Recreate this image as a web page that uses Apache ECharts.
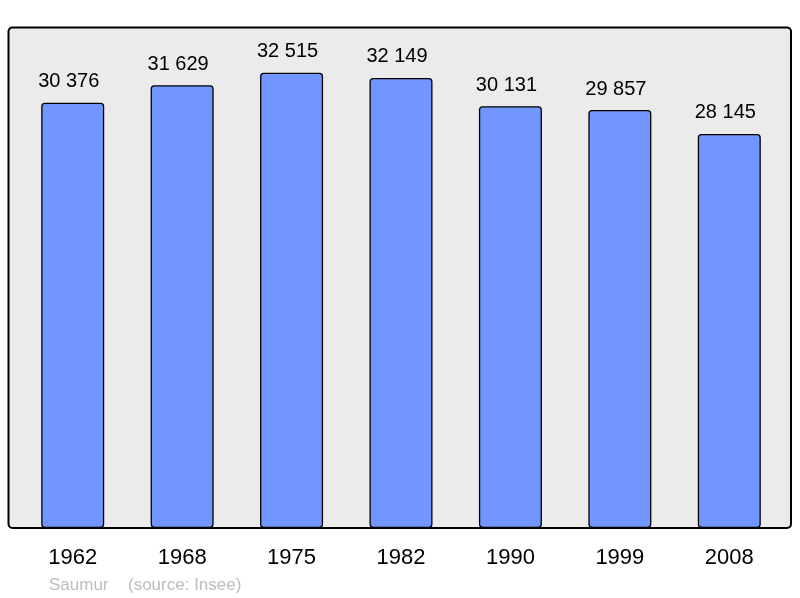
<!DOCTYPE html>
<html><head><meta charset="utf-8">
<script src="https://cdn.jsdelivr.net/npm/echarts@6/dist/echarts.min.js"></script>
<style>html,body{margin:0;padding:0;background:#fff}#c{width:800px;height:598px}</style>
</head><body><div id="c"></div>
<script>
const years = ['1962','1968','1975','1982','1990','1999','2008'];
const population = [30376, 31629, 32515, 32149, 30131, 29857, 28145];
const town = 'Saumur';
const source = '(source: Insee)';

const fmt = v => String(v).replace(/\B(?=(\d{3})+(?!\d))/g, ' ');
const chart = echarts.init(document.getElementById('c'), null, {renderer: 'canvas'});
chart.setOption({
  animation: false,
  backgroundColor: '#ffffff',
  textStyle: {fontFamily: 'Liberation Sans, Arial, sans-serif'},
  graphic: [
    {type: 'rect', z: -10, shape: {x: 8.5, y: 27.5, width: 782.5, height: 500.5, r: 4},
     style: {fill: '#ebebeb', stroke: '#000', lineWidth: 2}},
    {type: 'text', left: 49, top: 577, style: {text: town, fill: '#bdbdbd', font: '17px Liberation Sans, Arial, sans-serif'}},
    {type: 'text', left: 128, top: 577, style: {text: source, fill: '#bdbdbd', font: '17px Liberation Sans, Arial, sans-serif'}}
  ],
  grid: {left: 18, right: 16, top: 27.5, bottom: 70, containLabel: false},
  xAxis: {
    type: 'category', data: years,
    axisLine: {show: false}, axisTick: {show: false},
    axisLabel: {fontSize: 22, color: '#000', margin: 19}
  },
  yAxis: {
    type: 'value', min: 0, max: 35750,
    show: false, splitLine: {show: false}
  },
  series: [{
    type: 'bar', data: population, barWidth: 63,
    itemStyle: {color: '#7196ff', borderColor: '#000', borderWidth: 1.3, borderRadius: 3},
    label: {show: true, position: 'top', distance: 11, offset: [-4, 0], fontSize: 20, color: '#000',
            formatter: p => fmt(p.value)}
  }]
});
</script></body></html>
